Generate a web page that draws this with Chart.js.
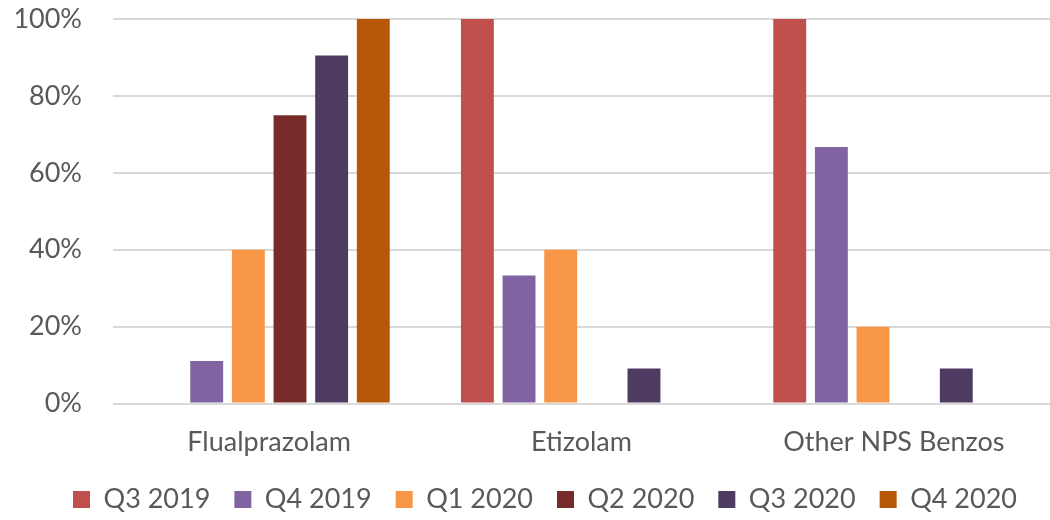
<!DOCTYPE html>
<html>
<head>
<meta charset="utf-8">
<script src="https://cdn.jsdelivr.net/npm/chart.js@4"></script>
<style>
  body { margin: 0; background: #fff; }
  .chart-wrap { width: 1050px; height: 520px; }
</style>
</head>
<body>
<div class="chart-wrap"><canvas id="barChart"></canvas></div>
<script>
// categories and series (percent of samples)
const categories = ['Flualprazolam', 'Etizolam', 'Other NPS Benzos'];
const seriesNames = ['Q3 2019', 'Q4 2019', 'Q1 2020', 'Q2 2020', 'Q3 2020', 'Q4 2020'];
const q3_2019 = [0, 100, 100];
const q4_2019 = [11.1, 33.3, 66.7];
const q1_2020 = [40, 40, 20];
const q2_2020 = [75, 0, 0];
const q3_2020 = [90.5, 9.1, 9.1];
const q4_2020 = [100, 0, 0];
const yTicks = [0, 20, 40, 60, 80, 100];

const colors = ['#C0504D', '#8064A2', '#F79646', '#772C2A', '#4D3B62', '#B65708'];
const values = [q3_2019, q4_2019, q1_2020, q2_2020, q3_2020, q4_2020];

// nudge the legend a bit right, like the original
const legendShift = {
  id: 'legendShift',
  afterLayout(chart) {
    if (chart.legend) {
      chart.legend.left += 20;
      chart.legend.right += 20;
    }
  },
};

const ctx = document.getElementById('barChart').getContext('2d');
new Chart(ctx, {
  type: 'bar',
  data: {
    labels: categories,
    datasets: seriesNames.map((name, i) => ({
      label: name,
      data: values[i],
      backgroundColor: colors[i],
      borderWidth: 0,
      categoryPercentage: 0.8,
      barPercentage: 0.79,
    })),
  },
  plugins: [legendShift],
  options: {
    responsive: true,
    maintainAspectRatio: false,
    animation: false,
    layout: { padding: { top: 19, right: 0, left: 0, bottom: -3 } },
    plugins: {
      tooltip: { enabled: false },
      legend: {
        position: 'bottom',
        labels: {
          boxWidth: 17,
          boxHeight: 17,
          padding: 24,
          color: '#595959',
          font: { family: 'Lato', size: 27 },
        },
      },
    },
    scales: {
      x: {
        grid: { display: false, drawTicks: false },
        border: { display: false },
        afterFit: axis => { axis.height -= 18; },
        ticks: {
          color: '#595959',
          padding: 22,
          font: { family: 'Lato', size: 27 },
        },
      },
      y: {
        min: 0,
        max: 100,
        afterBuildTicks: axis => { axis.ticks = yTicks.map(v => ({ value: v })); },
        afterFit: axis => {
          axis.width = 113;
          axis.paddingTop = 0;
          axis.paddingBottom = 0;
        },
        grid: { color: '#D9D9D9', lineWidth: 2, drawTicks: false },
        border: { display: false },
        ticks: {
          color: '#595959',
          padding: 31,
          font: { family: 'Lato', size: 27 },
          callback: v => v + '%',
        },
      },
    },
  },
});
</script>
</body>
</html>
